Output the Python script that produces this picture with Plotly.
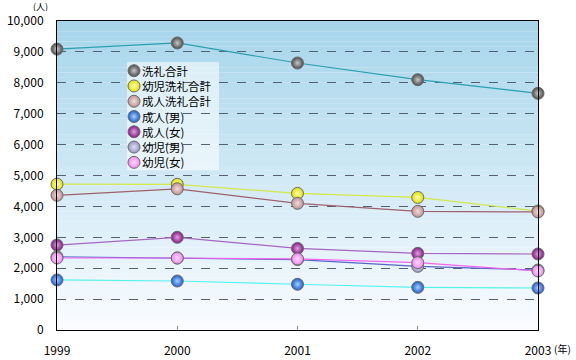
import plotly.graph_objects as go

years = [1999, 2000, 2001, 2002, 2003]
series_names = ["洗礼合計", "幼児洗礼合計", "成人洗礼合計", "成人(男)", "成人(女)", "幼児(男)", "幼児(女)"]
total = [9090, 9290, 8640, 8100, 7660]
infant_total = [4720, 4715, 4420, 4290, 3850]
adult_total = [4360, 4570, 4100, 3840, 3820]
adult_male = [1620, 1585, 1480, 1380, 1360]
adult_female = [2750, 3000, 2640, 2480, 2460]
infant_male = [2370, 2330, 2280, 2060, 1940]
infant_female = [2330, 2330, 2300, 2180, 1910]
y_ticks = [0, 1000, 2000, 3000, 4000, 5000, 6000, 7000, 8000, 9000, 10000]

values = [total, infant_total, adult_total, adult_male, adult_female, infant_male, infant_female]
line_colors = ["#2a9fb2", "#d4e84a", "#a0606c", "#55f2f2", "#a566c4", "#5566c8", "#f066f0"]
marker_colors = ["#4a4a4a", "#e0e000", "#c09090", "#1a60cc", "#841a84", "#9494c4", "#ee88ee"]
highlight = ["#c8c8c8", "#ffffb0", "#f0dcdc", "#a8ccff", "#e0a0e0", "#e0e0f4", "#ffd8ff"]

# plot area in pixels (used to place the compact legend)
L, R, T, B = 57, 538, 21, 330
W, H = R - L, B - T


def px_x(p):
    return (p - L) / W


def px_y(p):
    return (B - p) / H


fig = go.Figure()
for name, vals, lc, mc, hc in zip(series_names, values, line_colors, marker_colors, highlight):
    fig.add_trace(go.Scatter(
        x=years, y=vals, name=name, mode="lines+markers",
        line=dict(color=lc, width=1.2),
        marker=dict(size=12, color=mc, line=dict(color="#6a6a6a", width=1),
                    gradient=dict(type="radial", color=hc)),
        cliponaxis=False, showlegend=False,
    ))

# custom legend (compact rows like the reference)
leg_x = 134
leg_y0 = 70.7
leg_dy = 15.27
leg_rows = [leg_y0 + leg_dy * i for i in range(len(series_names))]
fig.add_trace(go.Scatter(
    x=[px_x(leg_x)] * len(series_names), y=[px_y(v) for v in leg_rows],
    xaxis="x2", yaxis="y2",
    mode="markers", showlegend=False, hoverinfo="skip",
    marker=dict(size=12, color=marker_colors, line=dict(color="#6a6a6a", width=1),
                gradient=dict(type="radial", color=highlight)),
    cliponaxis=False,
))

# gradient background
n = 60
top = (166, 213, 235)
bot = (250, 252, 255)
shapes = []
for i in range(n):
    t = i / (n - 1)
    c = tuple(int(round(bot[k] + (top[k] - bot[k]) * t)) for k in range(3))
    shapes.append(dict(type="rect", xref="paper", yref="paper",
                       x0=0, x1=1, y0=i / n, y1=(i + 1.02) / n,
                       fillcolor="rgb(%d,%d,%d)" % c, line=dict(width=0), layer="below"))
shapes.append(dict(type="rect", xref="paper", yref="paper",
                   x0=px_x(127), x1=px_x(219), y0=px_y(170), y1=px_y(62),
                   fillcolor="rgba(255,255,255,0.55)", line=dict(width=0), layer="between"))

annotations = [
    dict(text=nm, xref="paper", yref="paper", x=px_x(141), y=px_y(yy), showarrow=False,
         xanchor="left", yanchor="middle", font=dict(size=11.5), height=14, borderpad=0,
         valign="middle")
    for nm, yy in zip(series_names, leg_rows)
]
annotations += [
    dict(text="(人)", xref="paper", yref="paper", x=px_x(40), y=px_y(6.5),
         showarrow=False, font=dict(size=9), xanchor="center", yanchor="middle",
         height=10, borderpad=0, valign="middle"),
    dict(text="(年)", xref="paper", yref="paper", x=px_x(562), y=px_y(348),
         showarrow=False, font=dict(size=10), xanchor="center", yanchor="middle"),
]

fig.update_layout(
    width=576, height=360,
    margin=dict(l=L, r=576 - R, t=T, b=360 - B),
    paper_bgcolor="white", plot_bgcolor="white",
    font=dict(family="Noto Sans CJK JP, DejaVu Sans", size=12, color="#000000"),
    shapes=shapes,
    annotations=annotations,
    showlegend=False,
    xaxis=dict(range=[1999, 2003], tickvals=years, ticktext=[str(y) for y in years],
               showgrid=False, zeroline=False, showline=True, linecolor="black", linewidth=1,
               mirror=True, ticks="inside", ticklen=4, tickcolor="#888888",
               ticklabelstandoff=10, fixedrange=True, automargin=False),
    yaxis=dict(range=[0, 10000], tickvals=y_ticks, tickformat=",d",
               showgrid=True, gridcolor="#556070", griddash="dash", gridwidth=1,
               zeroline=False, showline=True, linecolor="black", linewidth=1, mirror=True,
               ticks="", ticklabelstandoff=10, fixedrange=True, automargin=False),
    xaxis2=dict(range=[0, 1], overlaying="x", visible=False, fixedrange=True),
    yaxis2=dict(range=[0, 1], overlaying="y", visible=False, fixedrange=True),
)

fig.write_html("out.html", config={"displayModeBar": False},
               post_script="document.body.style.margin='0';")
